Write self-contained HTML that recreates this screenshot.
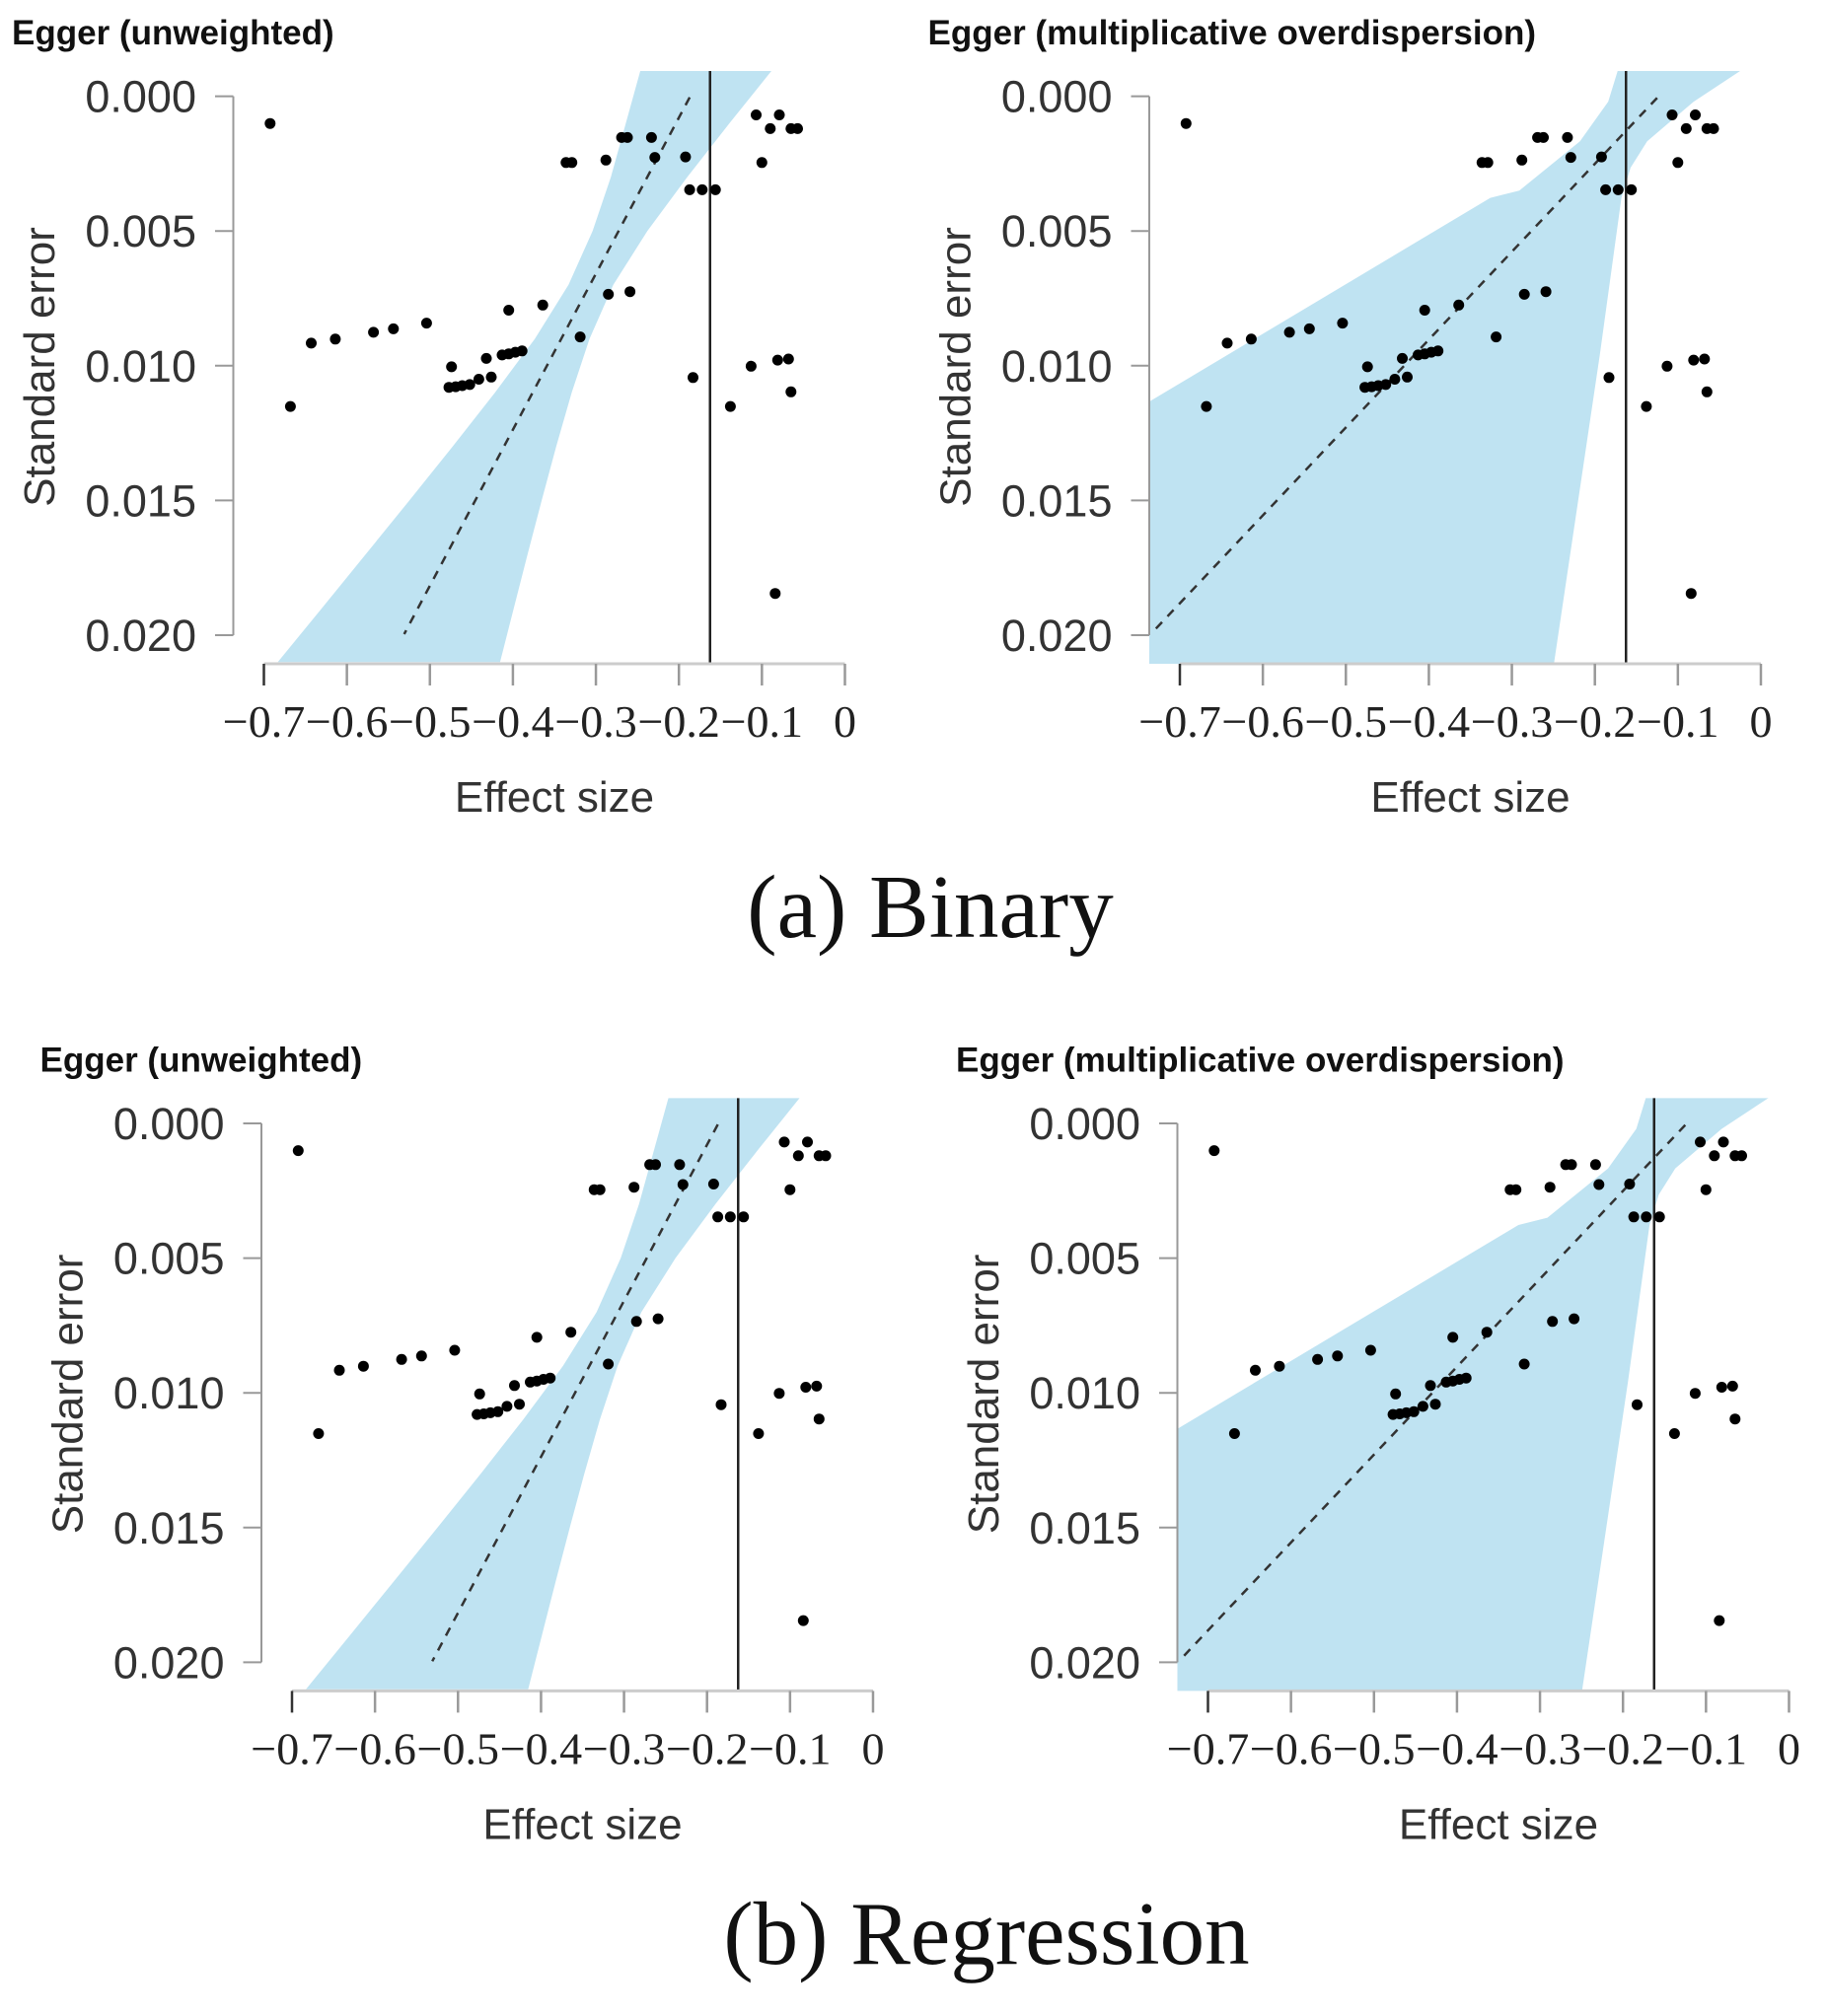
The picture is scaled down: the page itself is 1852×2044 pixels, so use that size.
<!DOCTYPE html>
<html><head><meta charset="utf-8"><style>
html,body{margin:0;padding:0;background:#fff;}
svg{display:block;}
</style></head><body>
<svg id="fig" xmlns="http://www.w3.org/2000/svg" width="1852" height="2044" viewBox="0 0 1852 2044">
<rect width="1852" height="2044" fill="#fff"/>
<text x="943" y="950" text-anchor="middle" font-family="Liberation Serif, serif" font-size="91" fill="#111">(a) Binary</text>
<text x="1000" y="1991" text-anchor="middle" font-family="Liberation Serif, serif" font-size="91" fill="#111">(b) Regression</text>
</svg>
<script>
// ---- data ----
const ptX = [-0.6925,-0.668,-0.643,-0.614,-0.568,-0.544,-0.504,-0.474,-0.477,-0.469,-0.461,-0.452,-0.441,-0.426,-0.432,-0.413,-0.405,-0.397,-0.389,-0.405,-0.364,-0.336,-0.329,-0.319,-0.288,-0.285,-0.269,-0.262,-0.259,-0.233,-0.229,-0.192,-0.187,-0.172,-0.156,-0.183,-0.138,-0.113,-0.107,-0.100,-0.090,-0.079,-0.084,-0.081,-0.068,-0.065,-0.057,-0.065];
const ptSE = [0.00101,0.01151,0.00916,0.00901,0.00876,0.00863,0.00842,0.01004,0.0108,0.01078,0.01074,0.0107,0.0105,0.01042,0.00973,0.0096,0.00956,0.0095,0.00945,0.00794,0.00775,0.00246,0.00246,0.00893,0.00237,0.00735,0.00153,0.00153,0.00725,0.00153,0.00227,0.00225,0.00347,0.00347,0.00347,0.01044,0.01151,0.01002,0.00069,0.00246,0.0012,0.00069,0.01845,0.00979,0.00975,0.0012,0.0012,0.01097];
const pooledEffect = [-0.1625];
// unweighted Egger: fitted line endpoints and confidence band
const fitU_SE = [0.00004, 0.01996];
const fitU_X = [-0.187, -0.531];
const bandU_SE = [-0.001,0.001,0.003,0.005,0.007,0.009,0.011,0.013,0.015,0.017,0.019,0.021];
const bandU_Lo = [-0.246,-0.264,-0.282,-0.304,-0.333,-0.3735,-0.4216,-0.4726,-0.5247,-0.5773,-0.6302,-0.6833];
const bandU_Hi = [-0.087,-0.139,-0.190,-0.238,-0.279,-0.3077,-0.3292,-0.3478,-0.3653,-0.3823,-0.399,-0.4155];
// multiplicative overdispersion Egger
const fitM_SE = [0.00006, 0.01986];
const fitM_X = [-0.125, -0.732];
const bandM_LoSE = [-0.001,0.0002,0.00167,0.0035,0.00377,0.0113,0.0215];
const bandM_Lo = [-0.172,-0.184,-0.218,-0.291,-0.326,-0.735,-1.31];
const bandM_HiSE = [-0.001,0.0002,0.00167,0.00265,0.00377,0.0096,0.0215];
const bandM_Hi = [-0.022,-0.081,-0.137,-0.157,-0.168,-0.194,-0.2515];
const xTicks = [-0.7,-0.6,-0.5,-0.4,-0.3,-0.2,-0.1,0];
const xTickLabels = ["\u22120.7","\u22120.6","\u22120.5","\u22120.4","\u22120.3","\u22120.2","\u22120.1","0"];
const yTicks = [0,0.005,0.010,0.015,0.020];
const yTickLabels = ["0.000","0.005","0.010","0.015","0.020"];

const NS = "http://www.w3.org/2000/svg";
const svg = document.getElementById('fig');
function mk(tag, attrs, parent){ const e=document.createElementNS(NS,tag); for(const k in attrs) e.setAttribute(k,attrs[k]); (parent||svg).appendChild(e); return e; }

function panel(ox, oy, title, fitSE, fitX, bandPts, id){
  const sx = v => ox + 267.5 + (v + 0.7) * 841.4;
  const sy = v => oy + 97.6 + v * 27320;
  const g = mk('g', {});
  
  
  const clipId = 'clip-' + id;
  const cp = mk('clipPath', {id: clipId}, g);
  mk('rect', {x: ox+236.5, y: oy+72, width: 634, height: 601}, cp);
  const band = mk('polygon', {points: bandPts.map(p => sx(p[0]).toFixed(1)+','+sy(p[1]).toFixed(1)).join(' '), fill:'#bfe3f2', 'clip-path':'url(#'+clipId+')'}, g);
  
  
  const vl = mk('line', {x1: sx(pooledEffect[0]), x2: sx(pooledEffect[0]), y1: oy+72, y2: oy+673, stroke:'#222', 'stroke-width':2.5}, g);
  
  
  const fl = mk('line', {x1: sx(fitX[0]), y1: sy(fitSE[0]), x2: sx(fitX[1]), y2: sy(fitSE[1]), stroke:'#333', 'stroke-width':2.5, 'stroke-dasharray':'9 8'}, g);
  
  
  for (let i=0;i<ptX.length;i++){
    const c = mk('circle', {cx: sx(ptX[i]).toFixed(1), cy: sy(ptSE[i]).toFixed(1), r: 5.5, fill:'#000'}, g);
    
    
  }
  const ya = mk('line', {x1: ox+236.5, x2: ox+236.5, y1: sy(0), y2: sy(0.02), stroke:'#999', 'stroke-width':2}, g);
  
  
  yTicks.forEach((t,i)=>{
    mk('line', {x1: ox+218, x2: ox+236.5, y1: sy(t), y2: sy(t), stroke:'#999', 'stroke-width':2}, g);
    const tl = mk('text', {x: ox+199, y: sy(t)+16, 'text-anchor':'end', 'font-family':'Liberation Sans, sans-serif', 'font-size':45, fill:'#333'}, g);
    tl.textContent = yTickLabels[i];
    
    
  });
  const xa = mk('line', {x1: sx(-0.7), x2: sx(0), y1: oy+673, y2: oy+673, stroke:'#ccc', 'stroke-width':3}, g);
  
  
  xTicks.forEach((t,i)=>{
    mk('line', {x1: sx(t), x2: sx(t), y1: oy+673, y2: oy+695, stroke: i===0?'#333':'#999', 'stroke-width':2.5}, g);
    const tl = mk('text', {x: sx(t), y: oy+747, 'text-anchor':'middle', 'font-family':'Liberation Serif, serif', 'font-size':46, fill:'#222'}, g);
    tl.textContent = xTickLabels[i];
    
    
  });
  const xt = mk('text', {x: sx(-0.35), y: oy+823, 'text-anchor':'middle', 'font-family':'Liberation Sans, sans-serif', 'font-size':44, fill:'#333'}, g);
  xt.textContent = 'Effect size';
  
  
  const yt = mk('text', {x: 0, y: 0, transform: 'translate('+(ox+55)+','+(oy+372)+') rotate(-90)', 'text-anchor':'middle', 'font-family':'Liberation Sans, sans-serif', 'font-size':44, fill:'#333'}, g);
  yt.textContent = 'Standard error';
  
  
  const tt = mk('text', {x: ox+12, y: oy+45, 'font-family':'Liberation Sans, sans-serif', 'font-size':35, 'font-weight':'bold', fill:'#111'}, g);
  tt.textContent = title;
  
  
}

const bandU = bandU_SE.map((s,i)=>[bandU_Lo[i], s]).concat(bandU_SE.map((s,i)=>[bandU_Hi[i], s]).reverse());
const bandM = bandM_LoSE.map((s,i)=>[bandM_Lo[i], s]).concat(bandM_HiSE.map((s,i)=>[bandM_Hi[i], s]).reverse());

panel(0, 0, 'Egger (unweighted)', fitU_SE, fitU_X, bandU, 'binary-unweighted');
panel(928.5, 0, 'Egger (multiplicative overdispersion)', fitM_SE, fitM_X, bandM, 'binary-multiplicative');
panel(28.5, 1041.4, 'Egger (unweighted)', fitU_SE, fitU_X, bandU, 'regression-unweighted');
panel(957, 1041.4, 'Egger (multiplicative overdispersion)', fitM_SE, fitM_X, bandM, 'regression-multiplicative');
</script>
</body></html>
